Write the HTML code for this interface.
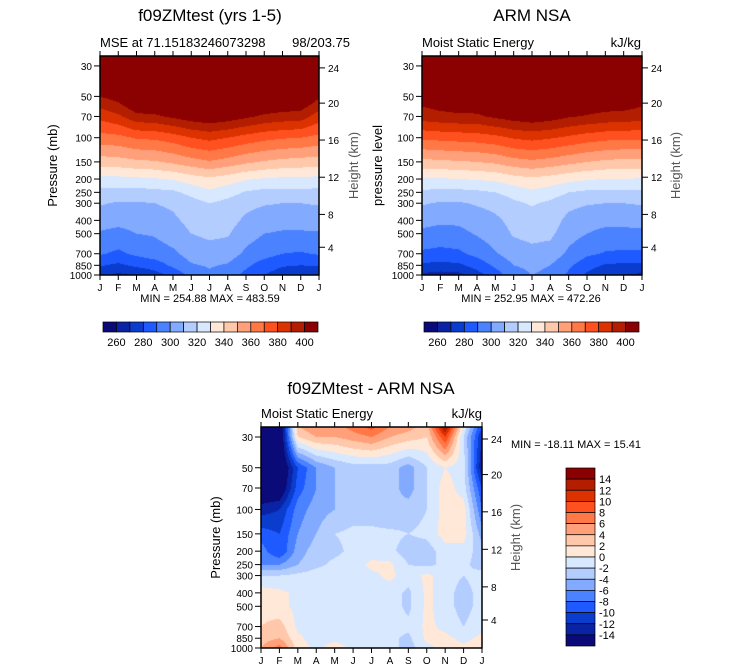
<!DOCTYPE html>
<html><head><meta charset="utf-8"><style>
body{margin:0;background:#fff;width:733px;height:672px;overflow:hidden;position:relative;font-family:"Liberation Sans",sans-serif}
canvas{position:absolute}
svg{position:absolute;left:0;top:0}
</style></head><body>
<canvas id="c1" width="219" height="219" style="left:100px;top:56px"></canvas>
<canvas id="c2" width="220" height="219" style="left:422px;top:56px"></canvas>
<canvas id="c3" width="221" height="221" style="left:261px;top:427px"></canvas>
<svg id="s" width="733" height="672"></svg>
<script>
const months=["J","F","M","A","M","J","J","A","S","O","N","D","J"];
const pLevels=[25,30,50,70,100,150,200,250,300,400,500,700,850,1000];
const pTicks=[30,50,70,100,150,200,250,300,400,500,700,850,1000];
const hTicks=[24,20,16,12,8,4];
const hTickP=[31,56,104,194,362,628];
const palette=["#0a0a78","#0a23a5","#0a3ccd","#1e5aff","#4b82ff","#82aaff","#b4cdff","#d7e8ff","#ffe8d7","#ffc8aa","#ffa07a","#ff7846","#ff5020","#dc3200","#b41e00","#8b0000"];
const mseLevels=[260,270,280,290,300,310,320,330,340,350,360,370,380,390,400];
const diffLevels=[-14,-12,-10,-8,-6,-4,-2,0,2,4,6,8,10,12,14];
const mseTickLabels=["260","280","300","320","340","360","380","400"];
const diffTickLabels=["14","12","10","8","6","4","2","0","-2","-4","-6","-8","-10","-12","-14"];
const modelMSE=[
[460,458,455,455,458,465,470,466,460,456,455,455,460],
[450,448,445,445,448,455,460,456,450,446,445,445,450],
[400,405,415,416,420,428,432,428,420,416,414,413,402],
[383,388,397,398,402,406,408,406,402,398,396,395,385],
[366,367,371,372,375,380,383,380,376,373,371,370,367],
[345,346,348,349,352,356,359,356,352,349,347,346,345],
[327,327,328,329,331,335,338,335,331,329,328,328,327],
[317,316,316,317,318,323,328,324,319,317,317,317,317],
[311,309,309,310,312,316,320,317,313,311,310,310,311],
[304,303,304,305,308,313,316,314,308,304,303,303,304],
[299,297,300,301,305,310,312,311,304,300,299,299,299],
[291,288,292,295,298,304,306,305,298,294,290,289,291],
[281,278,282,285,292,299,301,299,292,285,281,280,281],
[272,268,271,276,283,293,298,296,287,280,275,272,272]];
const armMSE=[
[455,455,452,452,455,460,465,462,456,452,450,450,455],
[440,440,438,438,440,447,452,448,442,438,436,436,440],
[405,408,410,412,416,422,426,422,416,412,410,410,405],
[395,397,398,398,402,405,407,405,401,399,397,396,395],
[372,373,374,375,377,381,383,381,378,375,373,372,372],
[347,348,349,350,352,356,358,356,353,350,348,347,347],
[329,329,330,331,332,336,338,336,333,331,330,330,329],
[318,317,317,318,320,324,328,325,320,318,318,318,318],
[311,309,309,311,313,318,321,318,313,311,310,310,311],
[303,302,302,305,308,313,316,315,307,303,302,302,303],
[298,296,297,301,305,311,313,312,304,300,298,298,298],
[288,287,288,293,299,305,307,306,298,292,289,288,288],
[278,277,278,284,292,300,302,300,292,284,279,278,278],
[268,266,267,276,285,296,300,298,288,278,272,270,268]];
const diffMSE=[
[-18,-18,4,6,5,7,9,6,5,3,15,0,-10],
[-18,-18,2,4,4,5,6,4,3,2,10,-2,-12],
[-18,-18,-10,-6,-4,-3,-3,-3,-5,-2,0,-1,-14],
[-17,-17,-9,-6,-4,-3,-3,-3,-5,-2,1,-1,-10],
[-13,-12,-7,-5,-4,-3,-3,-4,-3,-2,1,1,-8],
[-9,-10,-6,-4,-2,-1.5,-1.5,-1.5,-2,-1.5,1,1,-5],
[-7,-10,-5,-3,-2.5,-1.5,-1,-1.5,-3,-3,-1,-1,-3],
[-6,-6,-4,-2.5,-1.5,-1,0.5,0.5,-2,-2.5,-1.5,-1.5,-3],
[-2,-2,-1.5,-1,-1,-1,-0.5,0.5,-1,0.5,-1,-2,-1],
[1,0.5,-0.5,-1,-1,-1,-1,-1,-2.5,0.5,-1,-3,-1],
[1,0.5,-0.5,-1,-1,-1,-1,-1,-2.5,0.5,-1,-3,-1],
[2,3,-0.5,-1,-1,-1,-1,-1,-1.5,0.5,-0.5,-2,-0.5],
[3,4,0.5,-1,-0.5,-1,-1,-1.5,-2.5,0.5,0.5,-0.5,0.5],
[4,7,1,-0.5,1,-0.5,-0.5,-1,-3,-0.5,0.5,0.5,0.5]];

function drawField(id,grid,levels){
  const cv=document.getElementById(id),ctx=cv.getContext('2d');
  const W=cv.width,H=cv.height,img=ctx.createImageData(W,H);
  const rgb=palette.map(h=>[parseInt(h.substr(1,2),16),parseInt(h.substr(3,2),16),parseInt(h.substr(5,2),16)]);
  const lnTop=Math.log(25.4),lnBot=Math.log(1000);
  for(let y=0;y<H;y++){
    const lp=lnTop+(y+0.5)/H*(lnBot-lnTop);
    let k=0;while(k<pLevels.length-2&&Math.log(pLevels[k+1])<lp)k++;
    let t=(lp-Math.log(pLevels[k]))/(Math.log(pLevels[k+1])-Math.log(pLevels[k]));t=Math.max(0,Math.min(1,t));
    for(let x=0;x<W;x++){
      const m=(x+0.5)/W*12;let i=Math.min(11,Math.floor(m));const s=m-i;
      const v=(grid[k][i]*(1-s)+grid[k][i+1]*s)*(1-t)+(grid[k+1][i]*(1-s)+grid[k+1][i+1]*s)*t;
      let c=0;while(c<levels.length&&v>=levels[c])c++;
      const o=(y*W+x)*4;img.data[o]=rgb[c][0];img.data[o+1]=rgb[c][1];img.data[o+2]=rgb[c][2];img.data[o+3]=255;
    }
  }
  ctx.putImageData(img,0,0);
}
drawField('c1',modelMSE,mseLevels);
drawField('c2',armMSE,mseLevels);
drawField('c3',diffMSE,diffLevels);

const S=document.getElementById('s');const NS="http://www.w3.org/2000/svg";
function el(tag,a,txt){const e=document.createElementNS(NS,tag);for(const k in a)e.setAttribute(k,a[k]);if(txt!==undefined)e.textContent=txt;S.appendChild(e);return e;}
function txt(x,y,s,size,anchor,name,rot){const a={x:x,y:y,'font-size':size,'text-anchor':anchor||'start',fill:'#000'};if(rot)a.transform='rotate(-90 '+x+' '+y+')';const e=el('text',a,s);return e;}
function axes(L,T,W,H,ylab,ylabX,hLabX,prefix){
  const yOf=p=>T+H*Math.log(p/25.4)/Math.log(1000/25.4);
  const f=el('rect',{x:L,y:T,width:W,height:H,fill:'none',stroke:'#000','stroke-width':1.5});
  
  months.forEach((m,i)=>{const x=L+W*i/12;
    el('line',{x1:x,y1:T,x2:x,y2:T-5,stroke:'#000'});el('line',{x1:x,y1:T+H,x2:x,y2:T+H+5,stroke:'#000'});
    txt(x,T+H+16,m,10,'middle',prefix+'-month-label');});
  pTicks.forEach(p=>{const y=yOf(p);el('line',{x1:L,y1:y,x2:L-6,y2:y,stroke:'#000'});txt(L-8,y+4,String(p),10,'end',prefix+'-pressure-tick');});
  hTicks.forEach((h,i)=>{const y=yOf(hTickP[i]);el('line',{x1:L+W,y1:y,x2:L+W+6,y2:y,stroke:'#000'});txt(L+W+9,y+4,String(h),10,'start',prefix+'-height-tick');});
  txt(ylabX,T+H/2,ylab,13,'middle',prefix+'-y-axis-title',true);
  const r=txt(hLabX,T+H/2,'Height (km)',13,'middle',prefix+'-height-axis-title',true);r.setAttribute('fill','#555');
}
function hbar(L,T,W,H,prefix){
  const n=palette.length,bw=W/n;
  palette.forEach((c,i)=>{const r=el('rect',{x:L+i*bw,y:T,width:bw,height:H,fill:c,stroke:'#000','stroke-width':0.7});});
  mseTickLabels.forEach((s,j)=>txt(L+bw*(1+2*j),T+H+14,s,11,'middle',prefix+'-colorbar-label'));
}
txt(210,21,'f09ZMtest (yrs 1-5)',17,'middle','model-title');
txt(100,47,'MSE at 71.15183246073298',13,'start','model-subtitle');
txt(350,47,'98/203.75',13,'end','model-subtitle-overlap');
axes(100,56,219,219,'Pressure (mb)',57,358,'model');
txt(210,302,'MIN = 254.88 MAX = 483.59',11,'middle','model-min-max');
hbar(103,322,215,10,'model');
txt(532,21,'ARM NSA',17,'middle','arm-title');
txt(422,47,'Moist Static Energy',13,'start','arm-subtitle');
txt(641,47,'kJ/kg',13,'end','arm-units');
axes(422,56,220,219,'pressure level',382,680,'arm');
txt(531,302,'MIN = 252.95 MAX = 472.26',11,'middle','arm-min-max');
hbar(424,322,215,10,'arm');
txt(371,394,'f09ZMtest - ARM NSA',17,'middle','diff-title');
txt(261,418,'Moist Static Energy',13,'start','diff-subtitle');
txt(482,418,'kJ/kg',13,'end','diff-units');
axes(261,427,221,221,'Pressure (mb)',220,520,'diff');
txt(511,448,'MIN = -18.11 MAX =  15.41',11,'start','diff-min-max');
(function(){const L=566,T=468,W=29,H=178,n=palette.length,bh=H/n;
  for(let i=0;i<n;i++){const r=el('rect',{x:L,y:T+i*bh,width:W,height:bh,fill:palette[n-1-i],stroke:'#000','stroke-width':0.7});}
  diffTickLabels.forEach((s,j)=>txt(L+W+4,T+bh*(j+1)+4,s,11,'start','diff-colorbar-label'));})();
</script>
</body></html>
